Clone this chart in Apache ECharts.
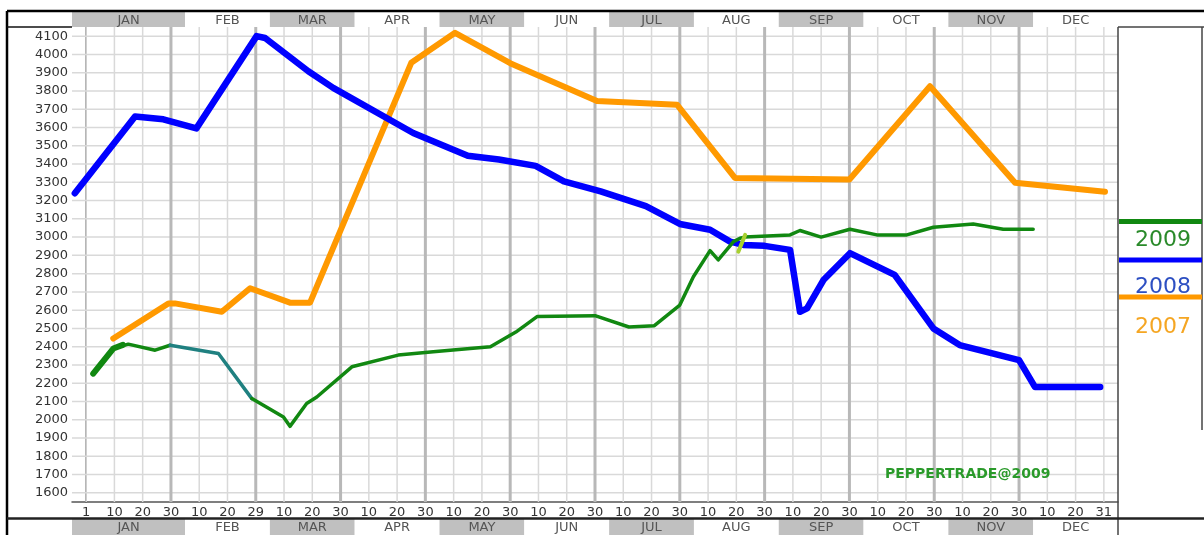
<!DOCTYPE html>
<html><head><meta charset="utf-8">
<script src="https://cdn.jsdelivr.net/npm/echarts@6/dist/echarts.min.js"></script>
<style>html,body{margin:0;padding:0;background:#fff}#c{width:1204px;height:535px}</style>
</head><body><div id="c"></div>
<script>
// ---- tick labels / categories ----
const dayLabels = ['1','10','20','30','10','20','29','10','20','30','10','20','30','10','20','30','10','20','30','10','20','30','10','20','30','10','20','30','10','20','30','10','20','30','10','20','31'];
const monthNames = ['JAN','FEB','MAR','APR','MAY','JUN','JUL','AUG','SEP','OCT','NOV','DEC'];
const monthStart = [-0.5, 3.5, 6.5, 9.5, 12.5, 15.5, 18.5, 21.5, 24.5, 27.5, 30.5, 33.5];
const monthEnd   = [3.5, 6.5, 9.5, 12.5, 15.5, 18.5, 21.5, 24.5, 27.5, 30.5, 33.5, 36.5];
const monthShaded = [1,0,1,0,1,0,1,0,1,0,1,0];
const monthEndTicks = [3, 6, 9, 12, 15, 18, 21, 24, 27, 30, 33];
const yTicks = [1600,1700,1800,1900,2000,2100,2200,2300,2400,2500,2600,2700,2800,2900,3000,3100,3200,3300,3400,3500,3600,3700,3800,3900,4000,4100];

// ---- series values: [position in 10-day steps from Jan 1, price] ----
const s2008 = [[-0.4,3240],[1.73,3660],[2.73,3645],[3.9,3595],[6.03,4100],[6.33,4090],[7.86,3908],[8.74,3817],[11.57,3570],[13.5,3445],[14.6,3425],[15.9,3390],[16.9,3305],[18.2,3250],[19.8,3170],[21.0,3072],[22.07,3040],[22.78,2975],[23.25,2957],[24.0,2952],[24.9,2930],[25.25,2591],[25.5,2610],[26.08,2765],[27.02,2912],[28.6,2793],[29.97,2500],[30.9,2409],[33.0,2327],[33.56,2180],[35.87,2180]];
const s2007 = [[0.96,2445],[2.91,2637],[3.14,2637],[4.8,2591],[5.8,2720],[7.21,2641],[7.92,2641],[11.5,3954],[13.05,4118],[15.0,3952],[18.07,3745],[20.9,3725],[22.95,3324],[27.0,3315],[29.85,3826],[32.86,3297],[36.04,3248]];
const s2009a = [[0.25,2253],[0.96,2390],[1.3,2410]];
const s2009b = [[0.96,2390],[1.49,2414],[2.44,2381],[2.97,2408]];
const s2009teal = [[2.97,2408],[4.68,2363],[5.86,2116]];
const s2009c = [[5.86,2116],[6.98,2015],[7.21,1964],[7.8,2089],[8.16,2125],[9.4,2290],[11.04,2354],[12.28,2372],[13.58,2390],[14.3,2400],[15.2,2480],[15.95,2565],[18.0,2570],[19.2,2508],[20.1,2515],[21.0,2628],[21.48,2783],[22.07,2926],[22.36,2875],[22.9,2975],[23.13,2994],[23.3,3000],[24.9,3012],[25.25,3036],[26.0,3000],[27.02,3043],[27.97,3012],[29.03,3012],[29.97,3054],[31.38,3072],[32.44,3043],[33.5,3043]];
const s2009mark = [[23.07,2920],[23.31,3012]];

const chart = echarts.init(document.getElementById('c'), null, {renderer:'canvas'});
const FONT = 'DejaVu Sans';

const vlineData = dayLabels.map((d, i) => [i, monthEndTicks.indexOf(i) >= 0 ? 1 : 0]);
const hlineData = yTicks.map(v => [v]);
const monthData = monthNames.map((m, i) => [monthStart[i], monthEnd[i], monthShaded[i]]);

function renderV(params, api) {
  const x = api.value(0), dark = api.value(1) === 1;
  const p0 = api.coord([x, 1550]), p1 = api.coord([x, 4150]);
  return {type:'line', shape:{x1:p0[0], y1:p0[1], x2:p1[0], y2:p1[1]},
    style:{stroke: dark ? '#b8b8b8' : '#d9d9d9', lineWidth: dark ? 3 : 1.5}};
}
function renderH(params, api) {
  const v = api.value(0);
  const p0 = api.coord([-0.5, v]), p1 = api.coord([36.5, v]);
  return {type:'line', shape:{x1:p0[0], y1:p0[1], x2:p1[0], y2:p1[1]},
    style:{stroke:'#d9d9d9', lineWidth:1.5}};
}
function renderMonth(params, api) {
  const s = api.value(0), e = api.value(1), sh = api.value(2);
  const p0 = api.coord([s, 1]), p1 = api.coord([e, 0]);
  return {type:'group', children:[
    {type:'rect', shape:{x:p0[0], y:p0[1], width:p1[0]-p0[0], height:p1[1]-p0[1]},
      style:{fill: sh ? '#c0c0c0' : '#ffffff'}},
    {type:'text', style:{text: monthNames[params.dataIndex], x:(p0[0]+p1[0])/2, y:(p0[1]+p1[1])/2 + 1,
      align:'center', verticalAlign:'middle', font:'13px "DejaVu Sans"', fill:'#555'}}
  ]};
}
function lineSeries(data, color, width, z) {
  return {type:'line', xAxisIndex:0, yAxisIndex:0, data:data, showSymbol:false, symbol:'none',
    lineStyle:{color:color, width:width, cap:'round', join:'round'}, itemStyle:{color:color}, z:z, silent:true};
}

const option = {
  animation:false,
  backgroundColor:'#ffffff',
  grid:[
    {left:72, top:27, width:1046, height:475},
    {left:72, top:12, width:1046, height:15},
    {left:72, top:519, width:1046, height:16}
  ],
  xAxis:[
    {type:'value', gridIndex:0, min:-0.5, max:36.5, show:false},
    {type:'category', gridIndex:0, position:'bottom', data: dayLabels.map((d,i)=> i + '|' + d),
      axisLine:{show:true, lineStyle:{color:'#555', width:1.5}}, axisTick:{show:false}, splitLine:{show:false},
      axisLabel:{interval:0, margin:4, color:'#333', fontSize:13, fontFamily:FONT,
        formatter:(v)=> v.split('|')[1]}},
    {type:'value', gridIndex:1, min:-0.5, max:36.5, show:false},
    {type:'value', gridIndex:2, min:-0.5, max:36.5, show:false}
  ],
  yAxis:[
    {type:'value', gridIndex:0, min:1550, max:4150, interval:50,
      axisLine:{show:true, lineStyle:{color:'#555', width:1.5}}, axisTick:{show:false}, splitLine:{show:false},
      axisLabel:{margin:4, color:'#333', fontSize:13, fontFamily:FONT,
        formatter:(v)=> (v % 100 === 0 && v >= 1600 && v <= 4100) ? String(v) : ''}},
    {type:'value', gridIndex:1, min:0, max:1, show:false},
    {type:'value', gridIndex:2, min:0, max:1, show:false}
  ],
  series:[
    {type:'custom', xAxisIndex:0, yAxisIndex:0, data:hlineData, renderItem:renderH, z:1, silent:true, clip:false},
    {type:'custom', xAxisIndex:0, yAxisIndex:0, data:vlineData, renderItem:renderV, z:1, silent:true, clip:false},
    {type:'custom', xAxisIndex:2, yAxisIndex:1, data:monthData, renderItem:renderMonth, z:1, silent:true},
    {type:'custom', xAxisIndex:3, yAxisIndex:2, data:monthData, renderItem:renderMonth, z:1, silent:true},
    lineSeries(s2007, '#ff9900', 6, 3),
    lineSeries(s2008, '#0000ff', 6.5, 4),
    lineSeries(s2009a, '#118811', 6, 5),
    lineSeries(s2009b, '#118811', 3.5, 5),
    lineSeries(s2009teal, '#1f8080', 3.5, 5),
    lineSeries(s2009c, '#118811', 3.5, 5),
    lineSeries(s2009mark, '#a8d030', 4, 6)
  ],
  graphic:[
    {type:'line', shape:{x1:7, y1:11, x2:1204, y2:11}, style:{stroke:'#000', lineWidth:2.5}, z:10},
    {type:'line', shape:{x1:7, y1:11, x2:7, y2:535}, style:{stroke:'#000', lineWidth:2.5}, z:10},
    {type:'line', shape:{x1:7, y1:27, x2:72, y2:27}, style:{stroke:'#111', lineWidth:1.5}, z:10},
    {type:'line', shape:{x1:1118, y1:27, x2:1118, y2:535}, style:{stroke:'#444', lineWidth:1.5}, z:10},
    {type:'line', shape:{x1:1118, y1:27, x2:1204, y2:27}, style:{stroke:'#444', lineWidth:1.5}, z:10},
    {type:'line', shape:{x1:1202, y1:27, x2:1202, y2:430}, style:{stroke:'#444', lineWidth:1.5}, z:10},
    {type:'line', shape:{x1:7, y1:518.5, x2:1204, y2:518.5}, style:{stroke:'#222', lineWidth:2.5}, z:10},
    {type:'line', shape:{x1:1119, y1:221.5, x2:1202, y2:221.5}, style:{stroke:'#118811', lineWidth:5}, z:10},
    {type:'line', shape:{x1:1119, y1:260, x2:1202, y2:260}, style:{stroke:'#0000ff', lineWidth:5}, z:10},
    {type:'line', shape:{x1:1119, y1:297, x2:1202, y2:297}, style:{stroke:'#ff9900', lineWidth:5}, z:10},
    {type:'text', style:{text:'2009', x:1163, y:240, align:'center', verticalAlign:'middle', font:'22px "DejaVu Sans"', fill:'#2a8a2a'}, z:10},
    {type:'text', style:{text:'2008', x:1163, y:287, align:'center', verticalAlign:'middle', font:'22px "DejaVu Sans"', fill:'#2d4fc2'}, z:10},
    {type:'text', style:{text:'2007', x:1163, y:327, align:'center', verticalAlign:'middle', font:'22px "DejaVu Sans"', fill:'#f5a623'}, z:10},
    {type:'text', style:{text:'PEPPERTRADE@2009', x:885, y:474, align:'left', verticalAlign:'middle', font:'bold 14px "DejaVu Sans"', fill:'#2a9a2a'}, z:10}
  ]
};
chart.setOption(option);
</script></body></html>
